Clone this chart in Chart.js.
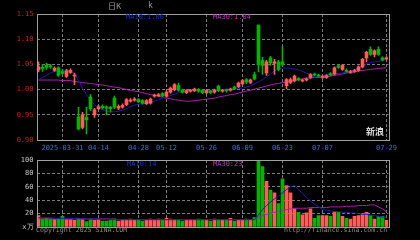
<!DOCTYPE html>
<html>
<head>
<meta charset="utf-8">
<script src="https://cdn.jsdelivr.net/npm/chart.js@4.4.1/dist/chart.umd.min.js"></script>
<style>
body { margin: 0; background: #000; width: 420px; height: 240px; overflow: hidden; position: relative; font-family: 'DejaVu Sans Mono', monospace; }
canvas { position: absolute; left: 0; top: 0; }
.t { position: absolute; white-space: pre; font-size: 7px; line-height: 7px; }
.cn { font-family: 'Noto Sans CJK SC', sans-serif; }
</style>
</head>
<body>
<canvas id="kChart" width="420" height="240"></canvas>
<canvas id="volChart" width="420" height="240"></canvas>

<div class="t cn" style="left:108px;top:2px;color:#9a9a9a;font-size:8px;line-height:8px;">日K</div>
<div class="t" style="left:148px;top:2px;color:#9a9a9a;font-size:8px;line-height:8px;">k</div>
<div class="t" style="left:126px;top:14px;color:#1432c8;">MA10:1.06</div>
<div class="t" style="left:213px;top:14px;color:#c030c0;">MA30:1.04</div>
<div class="t" style="left:127px;top:161px;color:#1432c8;">MA10:14</div>
<div class="t" style="left:213px;top:161px;color:#c030c0;">MA30:23</div>
<div class="t" style="left:36px;top:227px;color:#8c8c8c;font-size:6.6px;">Copyright 2025 SINA.COM</div>
<div class="t" style="left:284px;top:227px;color:#8c8c8c;font-size:6.6px;">http://finance.sina.com.cn</div>
<div class="t cn" style="left:366px;top:127px;color:#d8d8d8;font-size:9px;line-height:9px;font-weight:bold;">新浪</div>

<script>
// ---- daily K data ----
const dates = ['03-21','03-24','03-25','03-26','03-27','03-28','03-31','04-01','04-02','04-03',
    '04-07','04-08','04-09','04-10','04-11','04-14','04-15','04-16','04-17','04-18',
    '04-21','04-22','04-23','04-24','04-25','04-28','04-29','04-30','05-06','05-07',
    '05-08','05-09','05-12','05-13','05-14','05-15','05-16','05-19','05-20','05-21',
    '05-22','05-23','05-26','05-27','05-28','05-29','05-30','06-03','06-04','06-05',
    '06-06','06-09','06-10','06-11','06-12','06-13','06-16','06-17','06-18','06-19',
    '06-20','06-23','06-24','06-25','06-26','06-27','06-30','07-01','07-02','07-03',
    '07-04','07-07','07-08','07-09','07-10','07-11','07-14','07-15','07-16','07-17',
    '07-18','07-21','07-22','07-23','07-24','07-25','07-28','07-29'];

const tickDates = ['03-31','04-14','04-28','05-12','05-26','06-09','06-23','07-07','07-29'];
const tickText = ['2025-03-31','04-14','04-28','05-12','05-26','06-09','06-23','07-07','07-29'];

const open = [1.039,1.044,1.048,1.047,1.038,1.043,1.036,1.026,1.034,1.027,
    0.946,0.925,0.945,0.985,0.950,0.962,0.967,0.966,0.965,0.983,
    0.963,0.965,0.970,0.977,0.979,0.980,0.978,0.972,0.973,0.987,
    0.988,0.992,0.987,0.995,1.000,1.008,0.999,0.994,0.997,0.998,
    1.000,0.998,0.994,0.997,0.995,1.007,0.997,0.999,0.999,1.005,
    1.006,1.012,1.020,1.014,1.030,1.128,1.058,1.033,1.063,1.052,
    1.055,1.055,1.008,1.014,1.017,1.022,1.017,1.019,1.024,1.031,
    1.029,1.024,1.024,1.032,1.031,1.047,1.040,1.038,1.034,1.036,
    1.038,1.045,1.063,1.080,1.070,1.080,1.063,1.061];

const close = [1.045,1.041,1.044,1.045,1.042,1.028,1.032,1.037,1.038,1.029,
    0.922,0.950,0.940,0.962,0.960,0.966,0.964,0.963,0.962,0.965,
    0.967,0.969,0.980,0.979,0.981,0.976,0.973,0.978,0.981,0.989,
    0.990,0.988,0.995,1.003,1.010,0.999,0.995,0.998,0.998,1.001,
    0.997,0.994,0.998,0.994,0.999,0.998,0.998,0.998,1.001,1.002,
    1.013,1.018,1.015,1.019,1.021,1.050,1.048,1.055,1.053,1.055,
    1.040,1.050,1.020,1.020,1.027,1.019,1.018,1.020,1.030,1.029,
    1.027,1.025,1.028,1.029,1.043,1.044,1.048,1.036,1.035,1.037,
    1.045,1.060,1.074,1.070,1.077,1.070,1.059,1.062];

const high = [1.055,1.050,1.052,1.050,1.045,1.045,1.040,1.040,1.041,1.033,
    0.965,0.955,0.965,0.990,0.963,0.969,0.970,0.968,0.967,0.987,
    0.970,0.972,0.982,0.982,0.984,0.982,0.980,0.980,0.983,0.991,
    0.992,0.994,0.997,1.005,1.012,1.013,1.001,1.000,1.000,1.003,
    1.002,1.000,1.000,0.999,1.001,1.009,1.000,1.001,1.003,1.007,
    1.015,1.020,1.022,1.021,1.035,1.128,1.064,1.058,1.066,1.060,
    1.058,1.085,1.022,1.023,1.029,1.024,1.021,1.023,1.032,1.033,
    1.031,1.028,1.030,1.034,1.045,1.049,1.050,1.041,1.038,1.040,
    1.047,1.062,1.076,1.085,1.079,1.085,1.065,1.065];

const low = [1.035,1.036,1.040,1.042,1.036,1.026,1.030,1.024,1.032,1.010,
    0.920,0.922,0.912,0.958,0.945,0.960,0.961,0.950,0.955,0.962,
    0.960,0.963,0.968,0.975,0.977,0.974,0.971,0.970,0.971,0.985,
    0.986,0.986,0.985,0.993,0.998,0.997,0.993,0.992,0.995,0.996,
    0.995,0.992,0.992,0.992,0.993,0.996,0.995,0.995,0.997,1.000,
    1.004,1.010,1.012,1.012,1.019,1.035,1.030,1.028,1.048,1.030,
    1.037,1.047,1.002,1.012,1.015,1.017,1.015,1.017,1.022,1.027,
    1.025,1.022,1.022,1.027,1.029,1.042,1.038,1.034,1.032,1.034,
    1.036,1.043,1.055,1.068,1.065,1.068,1.057,1.059];

// moving average lines as drawn
const ma10 = [1.019,1.024,1.028,1.033,1.036,1.037,1.037,1.037,1.036,1.032,
    1.018,1.003,0.990,0.979,0.970,0.964,0.960,0.957,0.956,0.956,
    0.957,0.959,0.962,0.966,0.969,0.971,0.972,0.973,0.975,0.977,
    0.980,0.983,0.986,0.988,0.991,0.994,0.996,0.997,0.998,0.998,
    0.998,0.998,0.998,0.998,0.999,1.000,1.000,1.001,1.001,1.002,
    1.002,1.003,1.005,1.008,1.011,1.015,1.020,1.025,1.031,1.037,
    1.041,1.043,1.043,1.042,1.041,1.039,1.036,1.033,1.029,1.025,
    1.026,1.028,1.029,1.030,1.031,1.032,1.033,1.035,1.037,1.039,
    1.041,1.046,1.051,1.054,1.055,1.056,1.058,1.060];

const ma30 = [1.019,1.019,1.019,1.019,1.019,1.019,1.018,1.018,1.018,1.016,
    1.015,1.014,1.013,1.012,1.011,1.010,1.009,1.008,1.006,1.005,
    1.004,1.002,1.000,0.998,0.997,0.996,0.994,0.992,0.990,0.989,
    0.987,0.985,0.983,0.982,0.980,0.979,0.978,0.977,0.977,0.978,
    0.979,0.980,0.981,0.982,0.983,0.985,0.987,0.988,0.990,0.991,
    0.993,0.995,0.997,0.999,1.001,1.003,1.005,1.007,1.009,1.011,
    1.012,1.014,1.015,1.017,1.018,1.020,1.021,1.023,1.023,1.024,
    1.024,1.025,1.025,1.027,1.028,1.030,1.031,1.033,1.034,1.035,
    1.037,1.038,1.039,1.040,1.041,1.042,1.043,1.043];

// ---- volume (万) ----
const volume = [17,12,13,12,11,13,16,11,11,10,
    13,12,8,11,10,11,9,9,10,12,
    9,10,11,12,10,11,9,10,12,11,
    12,10,13,12,11,10,9,10,11,10,
    12,11,10,9,12,11,10,11,13,9,
    10,11,12,10,14,99,90,68,55,51,
    35,72,62,51,27,22,18,21,27,13,
    17,17,17,16,23,22,16,13,12,16,
    17,20,22,17,12,16,16,10];

const volMa10 = [14,14,14,14,13,13,13,13,13,13,
    13,12,12,12,12,12,11,11,11,11,
    11,11,11,11,11,11,11,11,11,11,
    11,11,11,11,11,11,11,11,11,11,
    11,11,11,11,11,11,11,11,11,11,
    11,11,11,11,11,18,26,32,37,42,
    46,51,56,60,62,56,50,44,39,34,
    30,27,25,24,23,23,22,22,21,21,
    20,19,19,18,17,16,15,14];

const volMa30 = [12,12,12,12,12,12,12,12,12,12,
    12,12,12,12,12,12,12,12,12,12,
    11,11,11,11,11,11,11,11,11,11,
    11,11,11,11,11,11,11,11,11,11,
    11,11,11,11,11,11,11,11,11,11,
    11,11,11,11,11,14,17,19,21,22,
    23,25,26,27,28,28,28,28,29,29,
    29,29,29,30,30,30,30,31,31,31,
    32,32,32,33,33,30,27,23];

const UP = '#ff5c5c', DOWN = '#00b400';
const MONO = { family: 'DejaVu Sans Mono', size: 7 };

const candleColors = open.map((o, i) => close[i] >= o ? UP : DOWN);

// vertical dashed lines only at the labelled dates
const gridX = c => tickDates.includes(dates[c.index]) ? '#7c7c7c' : 'rgba(0,0,0,0)';

// solid frame round each plot
const framePlugin = {
    id: 'frame',
    afterDraw(chart) {
        const { ctx, chartArea: a } = chart;
        ctx.save();
        ctx.strokeStyle = '#a0a0a0';
        ctx.lineWidth = 1;
        ctx.strokeRect(Math.round(a.left) + 0.5, Math.round(a.top) + 0.5,
            Math.round(a.right - a.left), Math.round(a.bottom - a.top));
        ctx.restore();
    }
};

// ---- price chart ----
new Chart(document.getElementById('kChart'), {
    type: 'bar',
    data: {
        labels: dates,
        datasets: [
            { type: 'line', data: ma10, borderColor: '#1c1cb0', borderWidth: 1, pointRadius: 0, order: 3 },
            { type: 'line', data: ma30, borderColor: '#b020b0', borderWidth: 1, pointRadius: 0, order: 3 },
            { data: low.map((l, i) => [l, high[i]]), backgroundColor: candleColors, barThickness: 1, grouped: false, order: 2 },
            { data: open.map((o, i) => [o, close[i]]), backgroundColor: candleColors, barThickness: 3, minBarLength: 1, grouped: false, order: 1 }
        ]
    },
    options: {
        responsive: false, animation: false, devicePixelRatio: 1,
        layout: { padding: { top: 14, right: 31.5, bottom: 88, left: 0 } },
        plugins: { legend: { display: false }, tooltip: { enabled: false } },
        scales: {
            x: {
                offset: true,
                grid: { offset: false, color: gridX, drawTicks: false },
                border: { display: false, dash: [3, 2] },
                ticks: {
                    autoSkip: false, maxRotation: 0, padding: 4, color: '#3a74c8', font: MONO,
                    callback: (v, i) => {
                        const k = tickDates.indexOf(dates[i]);
                        return k >= 0 ? tickText[k] : '';
                    }
                },
                afterFit: s => { s.height = 12; }
            },
            y: {
                min: 0.9, max: 1.15,
                ticks: { stepSize: 0.05, padding: 3, color: '#d02020', font: MONO, callback: v => v.toFixed(2) },
                grid: { color: '#7c7c7c', drawTicks: false },
                border: { display: false, dash: [3, 2] },
                afterFit: s => { s.width = 36.5; }
            }
        }
    },
    plugins: [framePlugin]
});

// ---- volume chart ----
new Chart(document.getElementById('volChart'), {
    type: 'bar',
    data: {
        labels: dates,
        datasets: [
            { type: 'line', data: volMa10, borderColor: '#1c1cb0', borderWidth: 1, pointRadius: 0, order: 1 },
            { type: 'line', data: volMa30, borderColor: '#b020b0', borderWidth: 1, pointRadius: 0, order: 1 },
            { data: volume, backgroundColor: candleColors, barThickness: 3, order: 2 }
        ]
    },
    options: {
        responsive: false, animation: false, devicePixelRatio: 1,
        layout: { padding: { top: 160, right: 31.5, bottom: 13, left: 0 } },
        plugins: { legend: { display: false }, tooltip: { enabled: false } },
        scales: {
            x: {
                offset: true,
                grid: { offset: false, color: gridX, drawTicks: false },
                border: { display: false, dash: [3, 2] },
                ticks: { display: false, autoSkip: false },
                afterFit: s => { s.height = 0; }
            },
            y: {
                min: 0, max: 100,
                ticks: { stepSize: 20, padding: 3, color: '#c8c8c8', font: MONO, callback: v => v === 0 ? 'x万' : v },
                grid: { color: '#7c7c7c', drawTicks: false },
                border: { display: false, dash: [3, 2] },
                afterFit: s => { s.width = 36.5; }
            }
        }
    },
    plugins: [framePlugin]
});
</script>
</body>
</html>
